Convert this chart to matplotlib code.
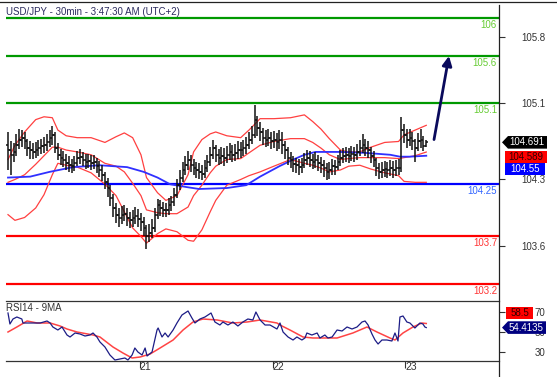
import numpy as np
import matplotlib
matplotlib.use('Agg')
import matplotlib.pyplot as plt
from matplotlib.patches import Polygon
from matplotlib.lines import Line2D
from matplotlib.transforms import Affine2D, ScaledTranslation

plt.rcParams['font.family'] = ['Liberation Sans', 'DejaVu Sans']

# --- USD/JPY 30 min bars (20th 00:00 .. 23rd 03:30) ---
opens = [
    104.66, 104.61, 104.56, 104.59, 104.66, 104.72, 104.74, 104.70, 104.63, 104.61,
    104.59, 104.61, 104.63, 104.65, 104.66, 104.69, 104.74, 104.77, 104.63, 104.56,
    104.53, 104.51, 104.47, 104.45, 104.44, 104.47, 104.53, 104.54, 104.51, 104.48,
    104.49, 104.47, 104.48, 104.44, 104.40, 104.35, 104.27, 104.21, 104.11, 104.00,
    103.93, 103.89, 103.93, 103.94, 103.89, 103.87, 103.89, 103.92, 103.88, 103.85,
    103.79, 103.71, 103.74, 103.79, 103.93, 104.03, 104.00, 103.98, 103.98, 104.03,
    104.06, 104.14, 104.24, 104.32, 104.40, 104.45, 104.51, 104.45, 104.42, 104.40,
    104.38, 104.36, 104.42, 104.48, 104.56, 104.63, 104.56, 104.53, 104.55, 104.53,
    104.56, 104.59, 104.56, 104.58, 104.61, 104.61, 104.63, 104.66, 104.72, 104.77,
    104.93, 104.84, 104.80, 104.74, 104.72, 104.74, 104.70, 104.72, 104.69, 104.72,
    104.66, 104.61, 104.53, 104.51, 104.46, 104.45, 104.43, 104.45, 104.51, 104.53,
    104.51, 104.48, 104.51, 104.47, 104.45, 104.42, 104.38, 104.40, 104.44, 104.43,
    104.48, 104.53, 104.55, 104.56, 104.55, 104.57, 104.56, 104.59, 104.63, 104.66,
    104.63, 104.61, 104.55, 104.51, 104.42, 104.38, 104.40, 104.41, 104.40, 104.42,
    104.40, 104.42, 104.42, 104.82, 104.77, 104.72, 104.74, 104.70, 104.63, 104.70,
    104.72, 104.65]
highs = [
    104.80, 104.70, 104.68, 104.78, 104.83, 104.82, 104.80, 104.73, 104.70, 104.68,
    104.69, 104.72, 104.73, 104.75, 104.78, 104.82, 104.86, 104.80, 104.68, 104.62,
    104.60, 104.57, 104.55, 104.52, 104.55, 104.60, 104.62, 104.59, 104.57, 104.57,
    104.56, 104.56, 104.53, 104.49, 104.45, 104.38, 104.32, 104.24, 104.15, 104.05,
    104.00, 104.02, 104.03, 104.00, 103.96, 103.98, 104.01, 103.99, 103.95, 103.90,
    103.82, 103.83, 103.88, 104.00, 104.09, 104.08, 104.06, 104.05, 104.10, 104.13,
    104.21, 104.30, 104.40, 104.48, 104.55, 104.60, 104.56, 104.52, 104.48, 104.47,
    104.45, 104.50, 104.56, 104.64, 104.72, 104.66, 104.62, 104.64, 104.63, 104.65,
    104.68, 104.66, 104.67, 104.70, 104.69, 104.72, 104.75, 104.80, 104.86, 105.08,
    104.97, 104.90, 104.84, 104.82, 104.83, 104.80, 104.81, 104.79, 104.82, 104.80,
    104.70, 104.64, 104.59, 104.55, 104.53, 104.52, 104.53, 104.58, 104.61, 104.60,
    104.57, 104.59, 104.56, 104.54, 104.51, 104.47, 104.48, 104.52, 104.51, 104.56,
    104.61, 104.63, 104.64, 104.63, 104.65, 104.64, 104.67, 104.72, 104.78, 104.73,
    104.70, 104.64, 104.60, 104.53, 104.47, 104.48, 104.49, 104.48, 104.51, 104.49,
    104.50, 104.52, 104.96, 104.88, 104.83, 104.83, 104.80, 104.73, 104.79, 104.83,
    104.76, 104.72]
lows = [
    104.40, 104.35, 104.48, 104.55, 104.62, 104.64, 104.62, 104.55, 104.52, 104.52,
    104.53, 104.55, 104.57, 104.58, 104.60, 104.64, 104.66, 104.58, 104.50, 104.45,
    104.43, 104.40, 104.38, 104.37, 104.39, 104.44, 104.46, 104.44, 104.41, 104.42,
    104.40, 104.41, 104.37, 104.33, 104.28, 104.20, 104.12, 104.02, 103.91, 103.84,
    103.80, 103.83, 103.86, 103.81, 103.79, 103.80, 103.83, 103.80, 103.76, 103.70,
    103.57, 103.64, 103.68, 103.75, 103.88, 103.92, 103.90, 103.91, 103.93, 103.97,
    104.02, 104.10, 104.19, 104.27, 104.35, 104.40, 104.38, 104.35, 104.32, 104.30,
    104.29, 104.32, 104.38, 104.44, 104.52, 104.48, 104.45, 104.46, 104.44, 104.47,
    104.50, 104.48, 104.49, 104.52, 104.53, 104.55, 104.57, 104.62, 104.67, 104.74,
    104.76, 104.71, 104.66, 104.64, 104.65, 104.62, 104.63, 104.60, 104.62, 104.57,
    104.52, 104.45, 104.42, 104.38, 104.37, 104.35, 104.37, 104.42, 104.45, 104.43,
    104.41, 104.42, 104.39, 104.37, 104.33, 104.29, 104.31, 104.35, 104.35, 104.40,
    104.44, 104.47, 104.48, 104.47, 104.49, 104.48, 104.51, 104.55, 104.58, 104.55,
    104.53, 104.47, 104.43, 104.34, 104.31, 104.32, 104.33, 104.32, 104.34, 104.32,
    104.34, 104.35, 104.38, 104.68, 104.63, 104.65, 104.61, 104.48, 104.60, 104.63,
    104.60, 104.64]
closes = [
    104.61, 104.56, 104.59, 104.66, 104.72, 104.74, 104.70, 104.63, 104.61, 104.59,
    104.61, 104.63, 104.65, 104.66, 104.69, 104.74, 104.77, 104.63, 104.56, 104.53,
    104.51, 104.47, 104.45, 104.44, 104.47, 104.53, 104.54, 104.51, 104.48, 104.49,
    104.47, 104.48, 104.44, 104.40, 104.35, 104.27, 104.21, 104.11, 104.00, 103.93,
    103.89, 103.93, 103.94, 103.89, 103.87, 103.89, 103.92, 103.88, 103.85, 103.79,
    103.71, 103.74, 103.79, 103.93, 104.03, 104.00, 103.98, 103.98, 104.03, 104.06,
    104.14, 104.24, 104.32, 104.40, 104.45, 104.51, 104.45, 104.42, 104.40, 104.38,
    104.36, 104.42, 104.48, 104.56, 104.63, 104.56, 104.53, 104.55, 104.53, 104.56,
    104.59, 104.56, 104.58, 104.61, 104.61, 104.63, 104.66, 104.72, 104.77, 104.93,
    104.84, 104.80, 104.74, 104.72, 104.74, 104.70, 104.72, 104.69, 104.72, 104.66,
    104.61, 104.53, 104.51, 104.46, 104.45, 104.43, 104.45, 104.51, 104.53, 104.51,
    104.48, 104.51, 104.47, 104.45, 104.42, 104.38, 104.40, 104.44, 104.43, 104.48,
    104.53, 104.55, 104.56, 104.55, 104.57, 104.56, 104.59, 104.63, 104.66, 104.63,
    104.61, 104.55, 104.51, 104.42, 104.38, 104.40, 104.41, 104.40, 104.42, 104.40,
    104.42, 104.42, 104.82, 104.77, 104.72, 104.74, 104.70, 104.63, 104.70, 104.72,
    104.65, 104.691]

# bollinger bands, read at these bar positions
bb_idx = [0, 2.5, 6, 10, 13, 16, 18, 21, 25, 30, 35, 39, 42, 45, 48, 50, 54, 57, 61, 65,
          67, 70, 73, 75, 79, 84, 87, 91, 96, 102, 107, 110, 113, 116, 120, 123, 127, 131,
          136, 141, 143, 147, 151]
bb_upper = [104.51, 104.66, 104.80, 104.93, 104.96, 104.95, 104.82, 104.76, 104.74, 104.74,
            104.69, 104.75, 104.79, 104.74, 104.56, 104.32, 104.16, 104.08, 104.13, 104.35,
            104.59, 104.72, 104.78, 104.80, 104.76, 104.74, 104.82, 104.94, 104.94, 104.95,
            104.98, 104.91, 104.83, 104.73, 104.61, 104.59, 104.59, 104.64, 104.69, 104.70,
            104.77, 104.82, 104.87]
bb_mid = [104.27, 104.30, 104.35, 104.46, 104.55, 104.64, 104.64, 104.61, 104.59, 104.56,
          104.47, 104.44, 104.38, 104.26, 104.13, 103.98, 103.95, 103.94, 103.94, 104.01,
          104.13, 104.24, 104.37, 104.44, 104.51, 104.52, 104.58, 104.66, 104.70, 104.73,
          104.73, 104.69, 104.63, 104.56, 104.51, 104.52, 104.53, 104.53, 104.53, 104.52,
          104.53, 104.55, 104.589]
bb_lower = [103.93, 103.87, 103.90, 104.00, 104.14, 104.35, 104.47, 104.45, 104.43, 104.37,
            104.25, 104.13, 103.96, 103.79, 103.70, 103.63, 103.73, 103.78, 103.75, 103.66,
            103.65, 103.77, 103.96, 104.08, 104.24, 104.30, 104.34, 104.38, 104.44, 104.51,
            104.47, 104.45, 104.42, 104.38, 104.40, 104.44, 104.45, 104.41, 104.37, 104.34,
            104.28, 104.27, 104.27]

# long moving average (blue)
ma_idx = [0, 8, 15, 23.5, 33, 43, 49, 54, 58.5, 64.5, 69, 79, 86, 91, 98, 103, 107, 111,
          120, 129, 138, 141.5, 145, 151]
ma_val = [104.32, 104.33, 104.38, 104.43, 104.45, 104.43, 104.38, 104.32, 104.25, 104.22,
          104.20, 104.21, 104.24, 104.33, 104.44, 104.51, 104.56, 104.59, 104.59, 104.58,
          104.56, 104.54, 104.54, 104.55]

# RSI14 and its 9MA
rsi_idx = [0, 0.7, 1.8, 3.2, 5, 5.4, 6.9, 9, 11.6, 14.1, 15.2, 16.2, 18, 19.5, 21.3, 22.4,
           24.2, 26, 27.8, 29.6, 30.7, 32.1, 33.2, 35, 36.8, 38.6, 40.4, 42.2, 43.3, 44.8,
           45.8, 46.9, 48.4, 49.5, 50.2, 52, 53.8, 54.2, 55.6, 56.7, 57.8, 59.6, 61, 62.8,
           63.9, 65, 66.4, 67.5, 69.3, 71.1, 73.3, 74.7, 76.5, 77.6, 79.4, 81.2, 83, 84.8,
           86.6, 88.4, 89.5, 91, 92.8, 94.6, 97.1, 98.2, 99.3, 101.1, 102.9, 104.3, 106.1,
           107.2, 107.9, 109.7, 111.6, 112.6, 114.4, 115.5, 117, 118.8, 120.6, 122.4, 124.2,
           126, 127.8, 128.9, 130, 131.4, 132.5, 133.6, 135, 136.8, 138.6, 139.7, 140.4,
           140.8, 141.5, 142.6, 144, 145.1, 146.9, 148.7, 149.8, 150.5, 151]
rsi_val = [69, 58, 63, 65, 63, 59, 59, 59, 59, 61, 59, 55, 52, 55, 47, 45, 49, 48, 46, 47,
           49, 45, 40, 35, 27, 22, 23, 24, 22, 27, 34, 30, 27, 34, 26, 30, 52, 54, 45, 49,
           45, 52, 59, 67, 69, 71, 64, 59, 63, 65, 69, 60, 57, 60, 57, 60, 56, 60, 63, 62,
           70, 62, 57, 57, 53, 59, 50, 45, 42, 45, 42, 44, 49, 47, 49, 44, 47, 44, 45, 52,
           51, 55, 53, 55, 60, 61, 57, 48, 42, 38, 42, 42, 41, 49, 44, 41, 65, 66, 60, 59,
           54, 59, 58, 55, 54.4135]
rsi_ma_idx = [0, 3.2, 6.9, 10.5, 15.2, 18.8, 21.3, 24.9, 30.7, 33.2, 37.9, 41.5, 44.8, 47.7,
              51.3, 54.9, 59.6, 63.2, 66.8, 70.4, 75.5, 81.2, 86.3, 91, 97.1, 98.2, 101.8,
              106.5, 110.1, 118.8, 124.5, 129.6, 133.2, 137.9, 139.7, 142.6, 146.2, 149.4, 151]
rsi_ma_val = [50, 55, 61, 59, 59, 56, 53, 50, 47, 45, 35, 29, 24, 25, 28, 34, 42, 52, 60, 63,
              62, 59, 60, 62, 59, 57, 52, 45, 44, 44, 49, 55, 50, 44, 42, 49, 55, 59, 58.5]

levels = [106, 105.6, 105.1, 104.25, 103.7, 103.2]
level_labels = ['106', '105.6', '105.1', '104.25', '103.7', '103.2']
level_colors = ['#009900', '#009900', '#009900', '#0000ff', '#ff0000', '#ff0000']
level_text_colors = ['#66cc33', '#66cc33', '#66cc33', '#3366ff', '#ff3333', '#ff3333']

price_ticks = [105.8, 105.1, 104.3, 103.6]
rsi_ticks = [70, 50, 30]
day_ticks = [47.5, 95.5, 143.5]
day_labels = ['21', '22', '23']

# projected move
arrow_from = (153.8, 104.72)
arrow_to = (159.2, 105.6)

fig = plt.figure(figsize=(5.57, 3.77), dpi=100)
W, H = 557, 377
ax = fig.add_axes([6 / W, 1 - 301 / H, 493 / W, 299 / H])
ax2 = fig.add_axes([6 / W, 1 - 361 / H, 493 / W, 60 / H])

xlim = (-0.72, 177.26)

# price panel
x = np.arange(len(closes))
bar_color = '#111111'
ax.vlines(x, lows, highs, color=bar_color, lw=1.1, zorder=4)
ax.hlines(opens, x - 0.6, x, color=bar_color, lw=1.1, zorder=4)
ax.hlines(closes, x, x + 0.6, color=bar_color, lw=1.1, zorder=4)

ax.plot(bb_idx, bb_upper, color='#ff4040', lw=0.9, zorder=3)
ax.plot(bb_idx, bb_mid, color='#ff4040', lw=0.9, zorder=3)
ax.plot(bb_idx, bb_lower, color='#ff4040', lw=0.9, zorder=3)
ax.plot(ma_idx, ma_val, color='#3030ff', lw=1.3, zorder=3)

for lev, lab, c, tc in zip(levels, level_labels, level_colors, level_text_colors):
    ax.axhline(lev, color=c, lw=1.6, zorder=2)
    base = ScaledTranslation(0.996, lev, ax.get_yaxis_transform())
    ax.text(0, -7, lab, transform=Affine2D() + base, ha='right', va='center',
            fontsize=7, color=tc)

ax.annotate('', xy=arrow_to, xytext=arrow_from,
            arrowprops=dict(arrowstyle='-|>', color='#0a0a5c', lw=2,
                            mutation_scale=14, shrinkA=0, shrinkB=0))

ax.set_xlim(*xlim)
ax.set_ylim(103.021, 106.168)
ax.set_xticks([])
ax.yaxis.tick_right()
ax.set_yticks(price_ticks)
ax.set_yticklabels([f'{t:.1f}' for t in price_ticks])
ax.tick_params(axis='y', direction='out', length=4, pad=29.5, labelsize=7,
               colors='#333333')
for lbl in ax.get_yticklabels():
    lbl.set_horizontalalignment('right')
for s in ax.spines.values():
    s.set_visible(False)
ax.patch.set_alpha(0)

# RSI panel
ax2.plot(rsi_ma_idx, rsi_ma_val, color='#ff4444', lw=1.1, zorder=3)
ax2.plot(rsi_idx, rsi_val, color='#1c1c86', lw=0.9, zorder=4)
ax2.set_xlim(*xlim)
ax2.set_ylim(21, 81)
ax2.yaxis.tick_right()
ax2.set_yticks(rsi_ticks)
ax2.set_yticklabels([str(t) for t in rsi_ticks])
ax2.tick_params(axis='y', direction='out', length=4, pad=29.5, labelsize=7,
                colors='#333333')
for lbl in ax2.get_yticklabels():
    lbl.set_horizontalalignment('right')
ax2.set_xticks(day_ticks)
ax2.set_xticklabels(day_labels)
ax2.tick_params(axis='x', direction='out', length=5, pad=-4, labelsize=7.5,
                colors='#333333')
for lbl in ax2.get_xticklabels():
    lbl.set_horizontalalignment('left')
ax2.spines['left'].set_visible(False)
ax2.spines['right'].set_visible(False)
ax2.spines['top'].set_color('#333333')
ax2.spines['bottom'].set_color('#333333')
ax2.spines['top'].set_linewidth(0.9)
ax2.spines['bottom'].set_linewidth(0.9)
ax2.patch.set_alpha(0)


def draw_tag(axis, value, label, face, text_color, left, right, dy=0, pointed=False):
    base = ScaledTranslation(1.0, value, axis.get_yaxis_transform())
    tr = Affine2D().scale(fig.dpi / 100) + base
    h = 6.3
    if pointed:
        verts = [(left, dy), (left + 6, dy + h), (right, dy + h),
                 (right, dy - h), (left + 6, dy - h)]
    else:
        verts = [(left, dy + h), (right, dy + h), (right, dy - h), (left, dy - h)]
    axis.add_artist(Polygon(verts, closed=True, transform=tr, facecolor=face,
                            edgecolor='none', clip_on=False, zorder=6))
    axis.text((left + right) / 2 + (2 if pointed else 0), dy, label, transform=tr,
              ha='center', va='center', fontsize=7, color=text_color,
              clip_on=False, zorder=7)


draw_tag(ax, closes[-1], '104.691', '#000000', '#ffffff', 3, 48, pointed=True)
draw_tag(ax, bb_mid[-1], '104.589', '#ff0000', '#330000', 6, 48, dy=-5)
draw_tag(ax, ma_val[-1], '104.55', '#0000ff', '#ffffff', 6, 46, dy=-13.3)
draw_tag(ax2, rsi_ma_val[-1], '58.5', '#ff0000', '#330000', 7, 34, dy=10.5)
draw_tag(ax2, rsi_val[-1], '54.4135', '#000080', '#ffffff', 3, 47, pointed=True)

# titles
fig.text(6 / W, 1 - 12 / H, 'USD/JPY - 30min - 3:47:30 AM (UTC+2)', fontsize=7,
         color='#2b2b5e', va='center', ha='left')
fig.text(6 / W, 1 - 308 / H, 'RSI14 - 9MA', fontsize=7, color='#333333',
         va='center', ha='left')

# frame lines
fig.add_artist(Line2D([0, 1], [1 - 2 / H, 1 - 2 / H], color='#222222', lw=0.9))
fig.add_artist(Line2D([499 / W, 499 / W], [0, 1 - 5 / H], color='#222222', lw=0.9))

fig.savefig('out.png', dpi=100)
